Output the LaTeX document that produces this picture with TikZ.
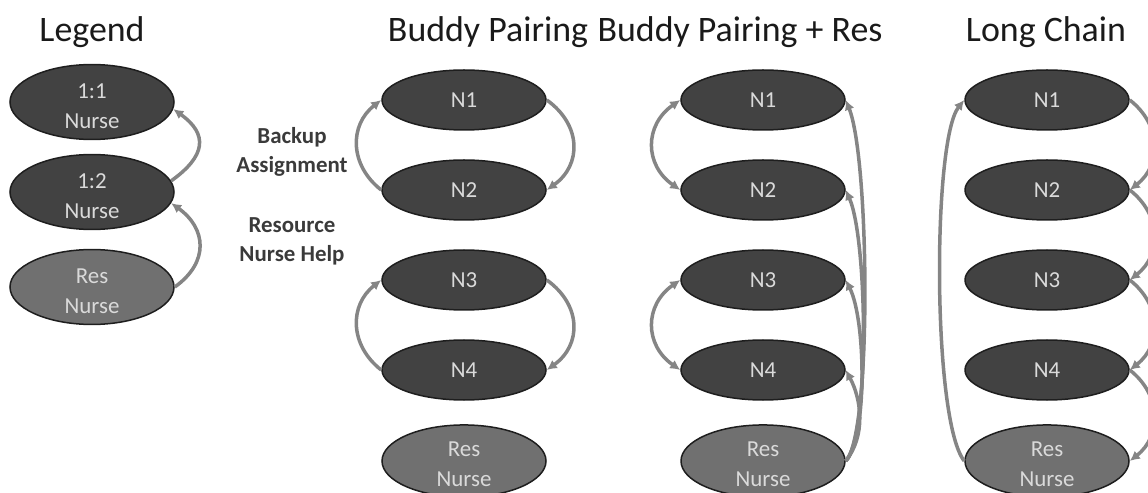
\documentclass[tikz,border=0pt]{standalone}
\usepackage{fontspec}
\setmainfont{Carlito}
\usetikzlibrary{shapes.geometric,arrows.meta}
\definecolor{nursefill}{HTML}{424242}
\definecolor{resfill}{HTML}{707070}
\definecolor{edgec}{HTML}{1E1E1E}
\definecolor{ntext}{HTML}{DADADA}
\definecolor{arrc}{HTML}{858585}
\definecolor{ttl}{HTML}{1A1A1A}
\definecolor{lblc}{HTML}{3A3A3A}
\tikzset{
  nurse/.style={ellipse, draw=edgec, line width=1.5bp, fill=nursefill,
    minimum width=164bp, minimum height=60bp, inner sep=0pt, text=ntext,
    font=\fontsize{23}{30}\selectfont, align=center},
  resnurse/.style={nurse, fill=resfill},
  arr/.style={draw=arrc, line width=3.5bp, -{Latex[length=10bp,width=10bp]}},
  arrboth/.style={draw=arrc, line width=3.5bp, {Latex[length=10bp,width=10bp]}-{Latex[length=10bp,width=10bp]}},
  ttlstyle/.style={font=\fontsize{36}{42}\selectfont, text=ttl, anchor=base, inner sep=0pt},
  lbl/.style={font=\bfseries\fontsize{23}{29}\selectfont, text=lblc, align=center}
}
\begin{document}
\begin{tikzpicture}[x=1bp,y=-1bp]
\useasboundingbox (0,0) rectangle (1148,493);
\clip (0,0) rectangle (1148,493);
% titles
\node[ttlstyle] (t1) at (92,42) {Legend};
\node[ttlstyle] (t2) at (488,42) {Buddy Pairing};
\node[ttlstyle] (t3) at (740,42) {Buddy Pairing + Res};
\node[ttlstyle] (t4) at (1046,42) {Long Chain};
% legend
\node[nurse] (L1) at (92,102) {\rule{0pt}{23pt}1:1\\Nurse};
\node[nurse] (L2) at (92,192) {\rule{0pt}{23pt}1:2\\Nurse};
\node[resnurse] (L3) at (92,287) {\rule{0pt}{23pt}Res\\Nurse};
\draw[arr] (L2.8) .. controls +(35,-25) and +(35,25) .. (L1.-5);
\draw[arr] (L3.east) .. controls +(35,-25) and +(35,25) .. (L2.-8);
\node[lbl] (bk) at (292,152) {Backup\\Assignment};
\node[lbl] (rn) at (292,241) {Resource\\Nurse Help};
% buddy pairing
\node[nurse] (B1) at (464,100) {N1};
\node[nurse] (B2) at (464,190) {N2};
\node[nurse] (B3) at (464,280) {N3};
\node[nurse] (B4) at (464,370) {N4};
\node[resnurse] (B5) at (464,461) {\rule{0pt}{21pt}Res\\Nurse};
\draw[arr] (B1.east) .. controls +(35,25) and +(35,-25) .. (B2.east);
\draw[arr] (B2.west) .. controls +(-32,-25) and +(-32,25) .. (B1.west);
\draw[arr] (B3.east) .. controls +(35,25) and +(35,-25) .. (B4.east);
\draw[arr] (B4.west) .. controls +(-32,-25) and +(-32,25) .. (B3.west);
% buddy pairing + res
\node[nurse] (R1) at (763,100) {N1};
\node[nurse] (R2) at (763,190) {N2};
\node[nurse] (R3) at (763,280) {N3};
\node[nurse] (R4) at (763,370) {N4};
\node[resnurse] (R5) at (763,461) {\rule{0pt}{21pt}Res\\Nurse};
\draw[arrboth] (R1.west) .. controls +(-36,25) and +(-36,-25) .. (R2.west);
\draw[arrboth] (R3.west) .. controls +(-36,25) and +(-36,-25) .. (R4.west);
\draw[arr] (R5.east) .. controls +(26,-25) and +(24,60) .. (R1.east);
\draw[arr] (R5.east) .. controls +(24,-25) and +(22,50) .. (R2.east);
\draw[arr] (R5.east) .. controls +(22,-25) and +(20,40) .. (R3.east);
\draw[arr] (R5.east) .. controls +(20,-25) and +(16,30) .. (R4.east);
% long chain
\node[nurse] (C1) at (1047,100) {N1};
\node[nurse] (C2) at (1047,190) {N2};
\node[nurse] (C3) at (1047,280) {N3};
\node[nurse] (C4) at (1047,370) {N4};
\node[resnurse] (C5) at (1047,461) {\rule{0pt}{21pt}Res\\Nurse};
\draw[arr] (C5.west) .. controls +(-32,-40) and +(-32,40) .. (C1.west);
\draw[arr] (C1.east) .. controls +(32,25) and +(32,-25) .. (C2.east);
\draw[arr] (C2.east) .. controls +(32,25) and +(32,-25) .. (C3.east);
\draw[arr] (C3.east) .. controls +(32,25) and +(32,-25) .. (C4.east);
\draw[arr] (C4.east) .. controls +(32,25) and +(32,-25) .. (C5.east);
\end{tikzpicture}
\end{document}
